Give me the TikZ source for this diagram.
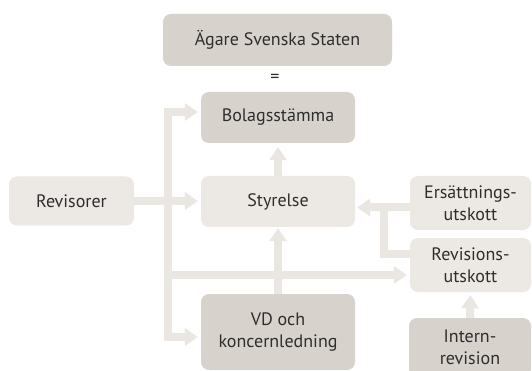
\documentclass[tikz,border=0pt]{standalone}
\usepackage{fontspec}
\setmainfont{PT Sans}
\usetikzlibrary{arrows.meta}
\definecolor{darkbox}{HTML}{D7D2CC}
\definecolor{lightbox}{HTML}{ECE8E3}
\definecolor{flowc}{HTML}{EAE6E1}
\definecolor{txt}{HTML}{2E2E2E}
\tikzset{
  box/.style={rectangle, rounded corners=8pt, inner sep=0pt, align=center, text=txt, font=\fontsize{18}{22}\selectfont},
  darkb/.style={box, fill=darkbox},
  lightb/.style={box, fill=lightbox},
  flowline/.style={draw=flowc, line width=8pt, line join=miter},
  flow/.style={flowline, -{Triangle[width=17pt,length=13pt]}, shorten >=3pt},
}
\begin{document}
\begin{tikzpicture}[x=1pt,y=-1pt]
\clip (0,0) rectangle (532,371);
\fill[white] (0,0) rectangle (532,371);
% boxes
\node[darkb, minimum width=229pt, minimum height=52pt] (owner) at (277.5,40) {Ägare Svenska Staten};
\node[text=txt, font=\fontsize{18}{22}\selectfont, inner sep=0pt] (eq) at (275,78) {=};
\node[darkb, minimum width=154pt, minimum height=51pt] (stamma) at (278,117.5) {Bolagsstämma};
\node[lightb, minimum width=154pt, minimum height=51pt] (styr) at (278,201.5) {Styrelse};
\node[lightb, minimum width=125pt, minimum height=49pt] (rev) at (71.5,201) {Revisorer};
\node[darkb, minimum width=154pt, minimum height=76pt] (vd) at (278,332) {VD och\\koncernledning};
\node[lightb, minimum width=121pt, minimum height=54pt] (ers) at (470.5,203) {Ersättnings-\\utskott};
\node[lightb, minimum width=121pt, minimum height=54pt] (revu) at (470.5,265) {Revisions-\\utskott};
\node[darkb, minimum width=122pt, minimum height=59pt] (intern) at (470,347.5) {Intern-\\revision};
% junctions
\coordinate (jt) at (168,112);
\coordinate (jb) at (168,337);
\coordinate (jm) at (168,275);
\coordinate (jf) at (384,207.5);
\coordinate (je) at (384,254);
% connectors
\draw[flowline, {Triangle[width=17pt,length=13pt]}-{Triangle[width=17pt,length=13pt]}, shorten <=3pt, shorten >=3pt]
  (stamma.west |- jt) -- (jt) -- (jb) -- (vd.west |- jb);
\draw[flow] (rev.east) -- (styr.west |- rev.east);
\draw[flow] (jm) -- (revu.west |- jm);
\draw[flow, shorten >=4pt] (styr.north) -- (stamma.south);
\draw[flow, shorten >=1pt] (vd.north) -- (styr.south);
\draw[flow, shorten >=2pt] (ers.west |- jf) -- (styr.east |- jf);
\draw[flowline] (revu.west |- je) -- (je) -- (jf);
\draw[flow, shorten >=3pt] (intern.north) -- (revu.south);
\end{tikzpicture}
\end{document}
